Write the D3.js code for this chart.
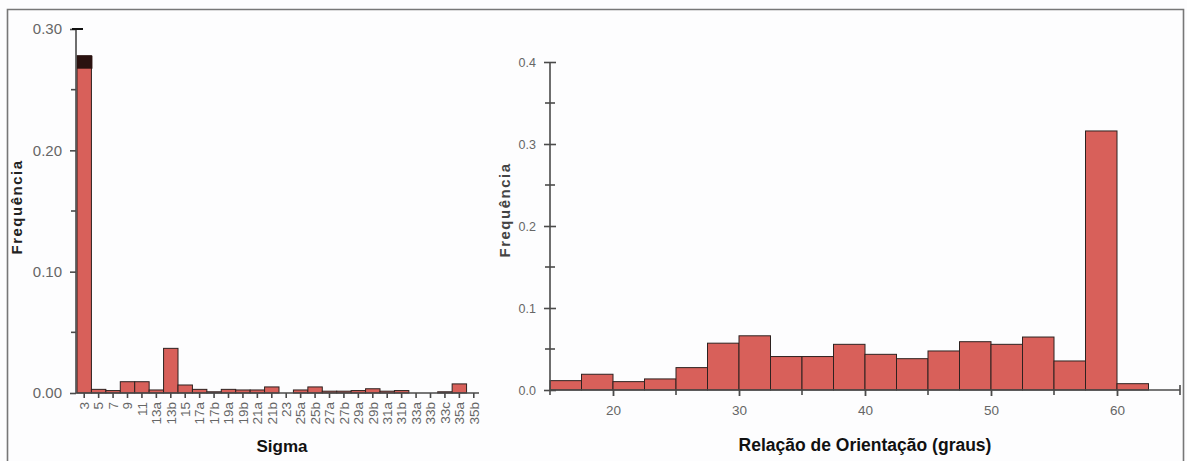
<!DOCTYPE html>
<html>
<head>
<meta charset="utf-8">
<script src="https://cdn.jsdelivr.net/npm/d3@7"></script>
<style>
  html, body { margin: 0; padding: 0; background: #fdfdfe; }
  svg { display: block; }
  text { font-family: "Liberation Sans", Arial, sans-serif; }
</style>
</head>
<body>
<svg id="chart" width="1187" height="461"></svg>
<script>
// Sigma (CSL boundary type) frequencies
const sigmaLabels = ["3", "5", "7", "9", "11", "13a", "13b", "15", "17a", "17b", "19a", "19b",
  "21a", "21b", "23", "25a", "25b", "27a", "27b", "29a", "29b", "31a", "31b",
  "33a", "33b", "33c", "35a", "35b"];
const sigmaFreq = [0.278, 0.003, 0.002, 0.0093, 0.0093, 0.0025, 0.0368, 0.0066, 0.003, 0.001, 0.003, 0.0025,
  0.0025, 0.005, 0, 0.0025, 0.005, 0.0015, 0.0015, 0.002, 0.0035, 0.0015, 0.002,
  0, 0, 0.001, 0.0075, 0];
const sigmaTicks = [0, 0.10, 0.20, 0.30];
const sigmaMinorTicks = [0.05, 0.15, 0.25];

// Misorientation histogram (bins of 2.5 degrees)
const binStart = [15, 17.5, 20, 22.5, 25, 27.5, 30, 32.5, 35, 37.5, 40, 42.5, 45, 47.5, 50, 52.5, 55, 57.5, 60];
const binEnd   = [17.5, 20, 22.5, 25, 27.5, 30, 32.5, 35, 37.5, 40, 42.5, 45, 47.5, 50, 52.5, 55, 57.5, 60, 62.5];
const angleFreq = [0.0114, 0.0192, 0.0102, 0.0135, 0.0273, 0.0571, 0.0661, 0.0408, 0.0408, 0.0557,
  0.0435, 0.0382, 0.0476, 0.0589, 0.0557, 0.0646, 0.0354, 0.3159, 0.0077];
const angleTicks = [20, 30, 40, 50, 60];
const angleMinorTicks = [15, 25, 35, 45, 55, 65];
const freqTicks = [0, 0.1, 0.2, 0.3, 0.4];
const freqMinorTicks = [0.05, 0.15, 0.25, 0.35];

const barFill = "#d8605a";
const barStroke = "#2e2220";
const axisColor = "#4a4a4a";
const labelColor = "#666";

const svg = d3.select("#chart");

// Frame
svg.append("path")
  .attr("d", "M7.5,461 V9.5 H1183.5 V461")
  .attr("fill", "none").attr("stroke", "#777").attr("stroke-width", 1.6);

/* ---------- Left panel: Sigma ---------- */
const gL = svg.append("g");
const xL = d3.scaleBand().domain(sigmaLabels).range([77, 481]).padding(0);
const yL = d3.scaleLinear().domain([0, 0.30]).range([393, 29]);

gL.selectAll("rect.bar").data(sigmaLabels).join("rect")
  .attr("class", "bar")
  .attr("x", d => xL(d))
  .attr("width", xL.bandwidth())
  .attr("y", (d, i) => yL(sigmaFreq[i]))
  .attr("height", (d, i) => yL(0) - yL(sigmaFreq[i]))
  .attr("fill", barFill)
  .attr("stroke", barStroke)
  .attr("stroke-width", 1);

// dark top of the tallest bar
const topIdx = sigmaFreq.indexOf(d3.max(sigmaFreq));
gL.append("rect")
  .attr("x", xL(sigmaLabels[topIdx]))
  .attr("width", xL.bandwidth() + 1)
  .attr("y", yL(sigmaFreq[topIdx]))
  .attr("height", 13)
  .attr("fill", "#2a1210");

// y axis
const yAxisL = gL.append("g").attr("transform", "translate(76,0)")
  .call(d3.axisLeft(yL).tickValues(sigmaTicks).tickFormat(d3.format(".2f")).tickSize(6).tickPadding(8));
yAxisL.select(".domain").attr("stroke", axisColor).attr("stroke-width", 1.6).attr("d", "M0," + yL(0.30) + "V" + yL(0));
yAxisL.selectAll(".tick line").attr("stroke", axisColor).attr("stroke-width", 1.6);
yAxisL.selectAll(".tick text").attr("fill", labelColor).attr("font-size", 15);
gL.append("g").attr("transform", "translate(76,0)")
  .selectAll("line").data(sigmaMinorTicks).join("line")
  .attr("x1", -5).attr("x2", 0).attr("y1", d => yL(d)).attr("y2", d => yL(d))
  .attr("stroke", axisColor).attr("stroke-width", 1.6);
// cap at the axis top
gL.append("line").attr("x1", 72).attr("x2", 83).attr("y1", yL(0.30)).attr("y2", yL(0.30))
  .attr("stroke", "#111").attr("stroke-width", 2);

// x axis
const xAxisL = gL.append("g").attr("transform", "translate(0,393)")
  .call(d3.axisBottom(xL).tickSize(5).tickPadding(3));
xAxisL.select(".domain").attr("stroke", axisColor).attr("stroke-width", 1.6).attr("d", "M76,0H479");
xAxisL.selectAll(".tick line").attr("stroke", axisColor).attr("stroke-width", 1.6);
xAxisL.selectAll(".tick text")
  .attr("fill", labelColor).attr("font-size", 13.5)
  .attr("text-anchor", "end")
  .attr("transform", "rotate(-90)")
  .attr("x", -9).attr("y", 0).attr("dy", "0.35em");

gL.append("text").attr("x", 282).attr("y", 452).attr("text-anchor", "middle")
  .attr("font-size", 17).attr("font-weight", "bold").attr("fill", "#111").text("Sigma");
gL.append("text").attr("transform", "translate(22,207) rotate(-90)").attr("text-anchor", "middle")
  .attr("font-size", 15).attr("font-weight", "bold").attr("letter-spacing", 1.5).attr("fill", "#222").text("Frequência");

/* ---------- Right panel: misorientation ---------- */
const gR = svg.append("g");
const xR = d3.scaleLinear().domain([15, 65]).range([550, 1180]);
const yR = d3.scaleLinear().domain([0, 0.4]).range([390, 62]);

gR.selectAll("rect.bar").data(angleFreq).join("rect")
  .attr("class", "bar")
  .attr("x", (d, i) => xR(binStart[i]))
  .attr("width", (d, i) => xR(binEnd[i]) - xR(binStart[i]))
  .attr("y", d => yR(d))
  .attr("height", d => yR(0) - yR(d))
  .attr("fill", barFill)
  .attr("stroke", barStroke)
  .attr("stroke-width", 1);

const yAxisR = gR.append("g").attr("transform", "translate(550,0)")
  .call(d3.axisLeft(yR).tickValues(freqTicks).tickFormat(d3.format(".1f")).tickSize(6).tickPadding(8));
yAxisR.select(".domain").attr("stroke", axisColor).attr("stroke-width", 1.6).attr("d", "M0," + yR(0.4) + "V" + yR(0));
yAxisR.selectAll(".tick line").attr("stroke", axisColor).attr("stroke-width", 1.6).attr("x2", 6).attr("x1", -6);
yAxisR.selectAll(".tick text").attr("fill", labelColor).attr("font-size", 12.5);
gR.append("g").attr("transform", "translate(550,0)")
  .selectAll("line").data(freqMinorTicks).join("line")
  .attr("x1", -5).attr("x2", 5).attr("y1", d => yR(d)).attr("y2", d => yR(d))
  .attr("stroke", axisColor).attr("stroke-width", 1.6);

const xAxisR = gR.append("g").attr("transform", "translate(0,390)")
  .call(d3.axisBottom(xR).tickValues(angleTicks).tickFormat(d3.format("d")).tickSize(6).tickPadding(9));
xAxisR.select(".domain").attr("stroke", axisColor).attr("stroke-width", 1.6).attr("d", "M550,0H1180");
xAxisR.selectAll(".tick line").attr("stroke", axisColor).attr("stroke-width", 1.8);
xAxisR.selectAll(".tick text").attr("fill", labelColor).attr("font-size", 13.5);
gR.append("g").attr("transform", "translate(0,390)")
  .selectAll("line").data(angleMinorTicks).join("line")
  .attr("x1", d => xR(d)).attr("x2", d => xR(d))
  .attr("y1", d => d === 65 ? -5 : 0).attr("y2", 5)
  .attr("stroke", axisColor).attr("stroke-width", 1.6);

gR.append("text").attr("x", 865).attr("y", 451).attr("text-anchor", "middle")
  .attr("font-size", 17.5).attr("font-weight", "bold").attr("fill", "#111").text("Relação de Orientação (graus)");
gR.append("text").attr("transform", "translate(510,210) rotate(-90)").attr("text-anchor", "middle")
  .attr("font-size", 15).attr("font-weight", "bold").attr("letter-spacing", 1.5).attr("fill", "#444").text("Frequência");
</script>
</body>
</html>
